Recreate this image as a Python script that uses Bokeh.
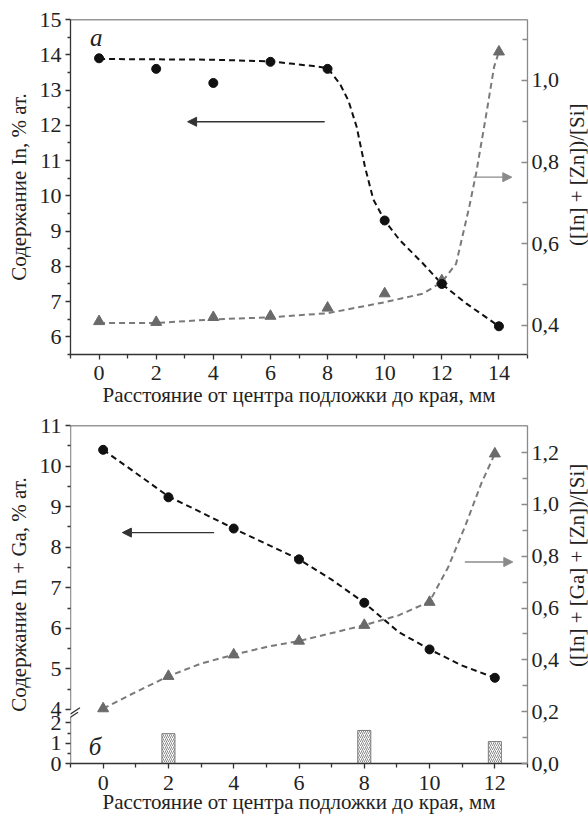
import math
from bokeh.plotting import figure
from bokeh.models import (Range1d, LinearAxis, FixedTicker, CustomJSTickFormatter,
                          Arrow, NormalHead, Label)
from bokeh.layouts import column, row
from bokeh.embed import file_html
from bokeh.resources import INLINE

FONT = "'Liberation Serif', 'DejaVu Serif', serif"
DARK = "#333333"
GRAY = "#8a8a8a"

# ---------------- data: panel a ----------------
a_x = [0, 2, 4, 6, 8, 10, 12, 14]
a_in = [13.9, 13.6, 13.2, 13.8, 13.6, 9.3, 7.5, 6.3]
a_ratio = [0.41, 0.408, 0.42, 0.423, 0.443, 0.478, 0.51, 1.07]
a_fit_in_x = [0, 2, 4, 6, 6.7, 7.5, 8, 8.43, 8.73, 9.02, 9.31, 9.6, 10, 10.53, 11.34, 12, 12.85, 14]
a_fit_in_y = [13.88, 13.87, 13.86, 13.81, 13.75, 13.68, 13.62, 13.18, 12.7, 11.95, 10.82, 9.9, 9.3, 8.74, 8.08, 7.5, 6.95, 6.3]
a_fit_r_x = [0, 2, 4, 6, 8, 10, 11.34, 12, 12.5, 12.96, 13.2, 13.54, 13.83, 14]
a_fit_r_y = [0.406, 0.406, 0.415, 0.42, 0.43, 0.457, 0.478, 0.506, 0.551, 0.69, 0.772, 0.91, 1.033, 1.07]
a_left_ticks = [6, 7, 8, 9, 10, 11, 12, 13, 14, 15]
a_right_ticks = [0.4, 0.6, 0.8, 1.0]
a_x_ticks = [0, 2, 4, 6, 8, 10, 12, 14]

# ---------------- data: panel b ----------------
b_x = [0, 2, 4, 6, 8, 10, 12]
b_in = [10.4, 9.23, 8.46, 7.7, 6.63, 5.48, 4.78]
b_ratio = [0.212, 0.337, 0.42, 0.473, 0.534, 0.623, 1.196]
b_fit_in_x = [0, 1, 2, 3, 4, 5, 6, 7, 8, 9.05, 10, 10.97, 12]
b_fit_in_y = [10.4, 9.83, 9.25, 8.86, 8.46, 8.08, 7.7, 7.2, 6.63, 5.91, 5.48, 5.09, 4.78]
b_fit_r_x = [0, 1, 2, 3, 4, 5, 6, 8, 9.05, 10, 10.57, 11.08, 11.58, 12]
b_fit_r_y = [0.212, 0.276, 0.337, 0.386, 0.42, 0.45, 0.473, 0.534, 0.572, 0.625, 0.758, 0.913, 1.08, 1.196]
b_bar_x = [2, 8, 12]
b_bar_v = [1.47, 1.63, 1.08]
b_left_upper_ticks = [4, 5, 6, 7, 8, 9, 10, 11]
b_left_lower_ticks = [0, 1, 2]
b_right_ticks = [0.0, 0.2, 0.4, 0.6, 0.8, 1.0, 1.2]
b_x_ticks = [0, 2, 4, 6, 8, 10, 12]

# broken-axis scale of panel b (left axis): lower part 0..2 compressed x0.5, upper part shifted
OFF = 2.667
LOW = 0.5


def up(v):
    return v - OFF


def low(v):
    return v * LOW


def style(ax, color, tick_size="22px"):
    ax.axis_line_color = color
    ax.axis_line_width = 1.3
    ax.major_tick_line_color = color
    ax.minor_tick_line_color = color
    ax.major_tick_line_width = 1.3
    ax.minor_tick_line_width = 1.3
    ax.major_label_text_font = FONT
    ax.major_label_text_font_size = tick_size
    ax.major_label_text_color = "#222222"
    ax.axis_label_text_font = FONT
    ax.axis_label_text_font_size = "21px"
    ax.axis_label_text_font_style = "normal"
    ax.axis_label_text_color = "#222222"


def title_strip(text, height, center_px):
    # narrow strip beside the chart that carries the right-axis title, read bottom-to-top
    t = figure(width=26, height=height, x_range=Range1d(0, 1), y_range=Range1d(height, 0),
               output_backend="svg", toolbar_location=None,
               min_border_left=0, min_border_right=0, min_border_top=0, min_border_bottom=0)
    t.axis.visible = False
    t.grid.visible = False
    t.outline_line_color = None
    t.add_layout(Label(x=0.55, y=center_px, text=text, angle=math.pi / 2,
                       text_font=FONT, text_font_size="21px", text_align="center",
                       text_baseline="middle", text_color="#222222"))
    return t


comma = CustomJSTickFormatter(code="return tick.toFixed(1).replace('.', ',');")
XT = "Расстояние от центра подложки до края, мм"

# ================= panel a =================
H1 = 410
p1 = figure(width=562, height=H1, x_range=Range1d(-1, 15), y_range=Range1d(5.5, 15),
            output_backend="svg", toolbar_location=None,
            min_border_left=70, min_border_right=34, min_border_top=19, min_border_bottom=56)
p1.outline_line_color = None
p1.grid.visible = False
p1.background_fill_color = "white"
p1.extra_y_ranges = {"r": Range1d(0.329, 1.149)}

xa = p1.xaxis[0]
xa.ticker = FixedTicker(ticks=a_x_ticks, minor_ticks=[-1, 1, 3, 5, 7, 9, 11, 13, 15])
xa.axis_label = XT
style(xa, DARK)
xa.major_tick_out = 5
xa.major_tick_in = 0
xa.minor_tick_out = 4
xa.minor_tick_in = 0
xa.major_label_standoff = 6
xa.axis_label_standoff = 0

ya = p1.yaxis[0]
ya.ticker = FixedTicker(ticks=a_left_ticks, minor_ticks=[t + 0.5 for t in range(5, 15)])
ya.axis_label = "Содержание In, % ат."
style(ya, DARK)
ya.major_tick_out = 5
ya.major_tick_in = 0
ya.minor_tick_out = 3
ya.minor_tick_in = 0
ya.major_label_standoff = 4
ya.axis_label_standoff = 6

ra = LinearAxis(y_range_name="r")
ra.ticker = FixedTicker(ticks=a_right_ticks, minor_ticks=[0.5, 0.7, 0.9, 1.1])
ra.formatter = comma
style(ra, GRAY)
ra.major_tick_out = 0
ra.major_tick_in = 6
ra.minor_tick_out = 0
ra.minor_tick_in = 5
ra.major_label_standoff = 4
p1.add_layout(ra, "right")

p1.add_layout(Arrow(end=None, x_start=-1, y_start=15, x_end=15, y_end=15,
                    line_color=DARK, line_width=1.3))

p1.line(a_fit_r_x, a_fit_r_y, y_range_name="r", line_color="#7a7a7a", line_width=2, line_dash="6 4")
p1.line(a_fit_in_x, a_fit_in_y, line_color="#111111", line_width=2, line_dash="6 4")
p1.scatter(a_x, a_ratio, y_range_name="r", marker="triangle", size=11,
           fill_color="#6a6a6a", line_color="#6a6a6a")
p1.scatter(a_x, a_in, marker="circle", size=9, fill_color="#111111", line_color="#111111")

p1.add_layout(Arrow(end=NormalHead(size=9, fill_color=DARK, line_color=DARK),
                    x_start=7.9, y_start=12.1, x_end=3.1, y_end=12.1,
                    line_color=DARK, line_width=1.3))
p1.add_layout(Arrow(end=NormalHead(size=9, fill_color=GRAY, line_color=GRAY),
                    x_start=13.1, y_start=0.763, x_end=14.45, y_end=0.763, y_range_name="r",
                    line_color=GRAY, line_width=1.3))
p1.add_layout(Label(x=-0.1, y=14.49, text="а", text_font=FONT, text_font_style="italic",
                    text_font_size="25px", text_align="center", text_baseline="middle",
                    text_color="#222222"))

t1 = title_strip("([In] + [Zn])/[Si]", H1, 190)

# ================= panel b =================
H2 = 406
p2 = figure(width=562, height=H2, x_range=Range1d(-1, 13), y_range=Range1d(0, up(11)),
            output_backend="svg", toolbar_location=None,
            min_border_left=70, min_border_right=34, min_border_top=15, min_border_bottom=53)
p2.outline_line_color = None
p2.grid.visible = False
p2.extra_y_ranges = {"r": Range1d(0, 1.305)}

xb = p2.xaxis[0]
xb.ticker = FixedTicker(ticks=b_x_ticks, minor_ticks=[-1, 1, 3, 5, 7, 9, 11, 13])
xb.axis_label = XT
style(xb, DARK)
xb.major_tick_out = 5
xb.major_tick_in = 0
xb.minor_tick_out = 4
xb.minor_tick_in = 0
xb.major_label_standoff = 7
xb.axis_label_standoff = -3

yb = p2.yaxis[0]
yb.ticker = FixedTicker(
    ticks=[low(v) for v in b_left_lower_ticks] + [up(v) for v in b_left_upper_ticks],
    minor_ticks=[low(0.5), low(1.5)] + [up(v + 0.5) for v in b_left_upper_ticks[:-1]])
yb.formatter = CustomJSTickFormatter(
    args=dict(off=OFF, low=LOW),
    code="return tick < 1.2 ? (tick / low).toFixed(0) : (tick + off).toFixed(0);")
yb.axis_label = "Содержание In + Ga, % ат."
style(yb, DARK)
yb.axis_line_color = None
yb.major_tick_out = 5
yb.major_tick_in = 0
yb.minor_tick_out = 3
yb.minor_tick_in = 0
yb.major_label_standoff = 4
yb.axis_label_standoff = 6

rb = LinearAxis(y_range_name="r")
rb.ticker = FixedTicker(ticks=b_right_ticks, minor_ticks=[0.1, 0.3, 0.5, 0.7, 0.9, 1.1])
rb.formatter = comma
style(rb, GRAY)
rb.major_tick_out = 0
rb.major_tick_in = 6
rb.minor_tick_out = 0
rb.minor_tick_in = 5
rb.major_label_standoff = 4
p2.add_layout(rb, "right")

# frame top line and broken left axis line
p2.add_layout(Arrow(end=None, x_start=-1, y_start=up(11), x_end=13, y_end=up(11),
                    line_color=DARK, line_width=1.3))
p2.add_layout(Arrow(end=None, x_start=-1, y_start=0, x_end=-1, y_end=1.15,
                    line_color=DARK, line_width=1.3))
p2.add_layout(Arrow(end=None, x_start=-1, y_start=1.32, x_end=-1, y_end=up(11),
                    line_color=DARK, line_width=1.3))
p2.add_layout(Arrow(end=None, x_start=-1.01, y_start=1.215, x_end=-0.71, y_end=1.376,
                    line_color=DARK, line_width=1.3))
p2.add_layout(Arrow(end=None, x_start=-1.07, y_start=1.105, x_end=-0.77, y_end=1.265,
                    line_color=DARK, line_width=1.3))

p2.vbar(x=b_bar_x, top=[low(v) for v in b_bar_v], bottom=0, width=0.4,
        fill_color="white", line_color="#7a7a7a", line_width=1,
        hatch_pattern="/", hatch_color="#8a8a8a", hatch_scale=4, hatch_weight=1)

p2.line(b_fit_r_x, b_fit_r_y, y_range_name="r", line_color="#7a7a7a", line_width=2, line_dash="6 4")
p2.line(b_fit_in_x, [up(v) for v in b_fit_in_y], line_color="#111111", line_width=2, line_dash="6 4")
p2.scatter(b_x, b_ratio, y_range_name="r", marker="triangle", size=11,
           fill_color="#6a6a6a", line_color="#6a6a6a")
p2.scatter(b_x, [up(v) for v in b_in], marker="circle", size=9,
           fill_color="#111111", line_color="#111111")

p2.add_layout(Arrow(end=NormalHead(size=9, fill_color=DARK, line_color=DARK),
                    x_start=3.4, y_start=up(8.36), x_end=0.59, y_end=up(8.36),
                    line_color=DARK, line_width=1.3))
p2.add_layout(Arrow(end=NormalHead(size=9, fill_color=GRAY, line_color=GRAY),
                    x_start=11.08, y_start=0.778, x_end=12.55, y_end=0.778, y_range_name="r",
                    line_color=GRAY, line_width=1.3))
p2.add_layout(Label(x=-0.25, y=0.43, text="б", text_font=FONT, text_font_style="italic",
                    text_font_size="25px", text_align="center", text_baseline="middle",
                    text_color="#222222"))

t2 = title_strip("([In] + [Ga] + [Zn])/[Si]", H2, 578 - H1)

layout = column(row(p1, t1, spacing=0), row(p2, t2, spacing=0), spacing=0)
open("out.html", "w").write(file_html(layout, INLINE))
